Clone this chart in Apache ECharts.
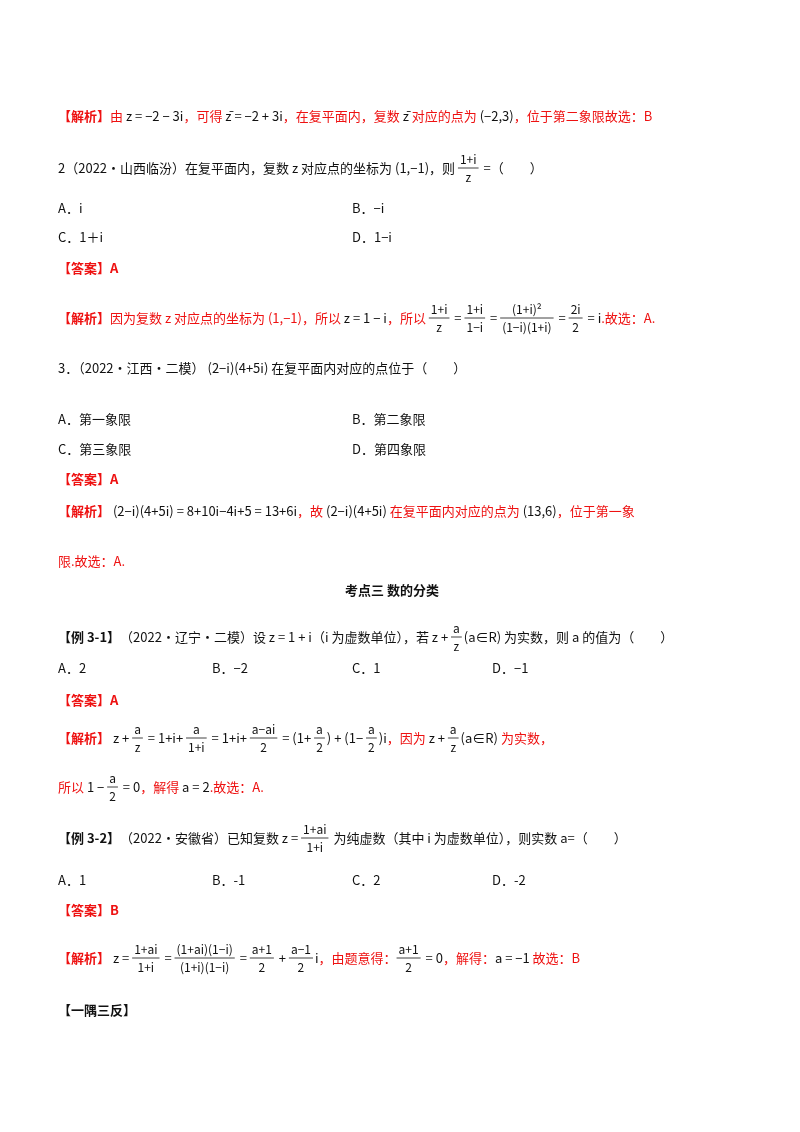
<!DOCTYPE html>
<html lang="zh">
<head>
<meta charset="UTF-8">
<title>复数</title>
<script src="https://cdn.jsdelivr.net/npm/echarts@6/dist/echarts.min.js"></script>
<style>
  html, body { margin: 0; padding: 0; background: #fff; }
  #page { width: 800px; height: 1132px; }
</style>
</head>
<body>
<div id="page"></div>
<script>
// 每一行：纵坐标 + 片段。片段 [颜色, 文字] 或 ['f', 分子, 分母, 颜色]，颜色 r=红 k=黑，rb/kb 加粗；'@' 表示跳到该横坐标
var lineY = [116, 168, 208, 237, 268, 318, 368, 419, 449, 479, 511, 561, 590, 637, 668, 700, 738, 787, 838, 880, 910, 958, 1010];
var lineParts = [
  [['rb','【解析】'],['r','由 '],['k','z = −2 − 3i'],['r','，可得 '],['k','z̄ = −2 + 3i'],['r','，在复平面内，复数 '],['k','z̄'],['r',' 对应的点为 '],['k','(−2,3)'],['r','，位于第二象限故选：B']],
  [['k','2（2022·山西临汾）在复平面内，复数 z 对应点的坐标为 (1,−1)，则 '],['f','1+i','z','k'],['k',' =（　　）']],
  [['k','A．i'],['@',352],['k','B．−i']],
  [['k','C．1＋i'],['@',352],['k','D．1−i']],
  [['rb','【答案】A']],
  [['rb','【解析】'],['r','因为复数 z 对应点的坐标为 (1,−1)，所以 '],['k','z = 1 − i'],['r','，所以 '],['f','1+i','z','k'],['k',' = '],['f','1+i','1−i','k'],['k',' = '],['f','(1+i)²','(1−i)(1+i)','k'],['k',' = '],['f','2i','2','k'],['k',' = i'],['r','.故选：A.']],
  [['k','3．（2022·江西·二模） (2−i)(4+5i) 在复平面内对应的点位于（　　）']],
  [['k','A．第一象限'],['@',352],['k','B．第二象限']],
  [['k','C．第三象限'],['@',352],['k','D．第四象限']],
  [['rb','【答案】A']],
  [['rb','【解析】'],['k',' (2−i)(4+5i) = 8+10i−4i+5 = 13+6i'],['r','，故 '],['k','(2−i)(4+5i)'],['r',' 在复平面内对应的点为 '],['k','(13,6)'],['r','，位于第一象']],
  [['r','限.故选：A.']],
  [['@',345],['kb','考点三 数的分类']],
  [['kb','【例 3-1】'],['k','（2022·辽宁·二模）设 z = 1 + i（i 为虚数单位），若 z + '],['f','a','z','k'],['k','(a∈R) 为实数，则 a 的值为（　　）']],
  [['k','A．2'],['@',212],['k','B．−2'],['@',352],['k','C．1'],['@',492],['k','D．−1']],
  [['rb','【答案】A']],
  [['rb','【解析】'],['k',' z + '],['f','a','z','k'],['k',' = 1+i+ '],['f','a','1+i','k'],['k',' = 1+i+ '],['f','a−ai','2','k'],['k',' = (1+ '],['f','a','2','k'],['k',') + (1− '],['f','a','2','k'],['k',')i'],['r','，因为 '],['k','z + '],['f','a','z','k'],['k','(a∈R)'],['r',' 为实数，']],
  [['r','所以 '],['k','1 − '],['f','a','2','k'],['k',' = 0'],['r','，解得 '],['k','a = 2'],['r','.故选：A.']],
  [['kb','【例 3-2】'],['k','（2022·安徽省）已知复数 z = '],['f','1+ai','1+i','k'],['k',' 为纯虚数（其中 i 为虚数单位），则实数 a=（　　）']],
  [['k','A．1'],['@',212],['k','B．-1'],['@',352],['k','C．2'],['@',492],['k','D．-2']],
  [['rb','【答案】B']],
  [['rb','【解析】'],['k',' z = '],['f','1+ai','1+i','k'],['k',' = '],['f','(1+ai)(1−i)','(1+i)(1−i)','k'],['k',' = '],['f','a+1','2','k'],['k',' + '],['f','a−1','2','k'],['k','i'],['r','，由题意得：'],['f','a+1','2','k'],['k',' = 0'],['r','，解得：'],['k','a = −1'],['r',' 故选：B']],
  [['kb','【一隅三反】']]
];

var FONT = '"Noto Sans CJK SC", "Liberation Serif", serif';
var SIZE = 13, FSIZE = 12;
var colors = { r: '#ee1111', k: '#111111' };
var ctx = document.createElement('canvas').getContext('2d');
function w(text, size, bold) {
  ctx.font = (bold ? 'bold ' : '') + size + 'px ' + FONT;
  return ctx.measureText(text).width;
}

var elements = [];
lineY.forEach(function (y, li) {
  var x = 58;
  lineParts[li].forEach(function (p) {
    if (p[0] === '@') { x = p[1]; return; }
    if (p[0] === 'f') {
      var c = colors[p[3]];
      var fw = Math.max(w(p[1], FSIZE), w(p[2], FSIZE)) + 4;
      elements.push({ type: 'text', x: x + fw / 2, y: y - 9, style: { text: p[1], fill: c, font: FSIZE + 'px ' + FONT, align: 'center', verticalAlign: 'middle' } });
      elements.push({ type: 'line', shape: { x1: x, y1: y, x2: x + fw, y2: y }, style: { stroke: c, lineWidth: 0.8 } });
      elements.push({ type: 'text', x: x + fw / 2, y: y + 9, style: { text: p[2], fill: c, font: FSIZE + 'px ' + FONT, align: 'center', verticalAlign: 'middle' } });
      x += fw + 2;
      return;
    }
    var bold = p[0].length === 2;
    var col = colors[p[0].charAt(0)];
    elements.push({ type: 'text', x: x, y: y, style: { text: p[1], fill: col, font: (bold ? 'bold ' : '') + SIZE + 'px ' + FONT, align: 'left', verticalAlign: 'middle' } });
    x += w(p[1], SIZE, bold);
  });
});

var myChart = echarts.init(document.getElementById('page'));
myChart.setOption({
  backgroundColor: '#ffffff',
  animation: false,
  graphic: { elements: elements }
});
</script>
</body>
</html>
